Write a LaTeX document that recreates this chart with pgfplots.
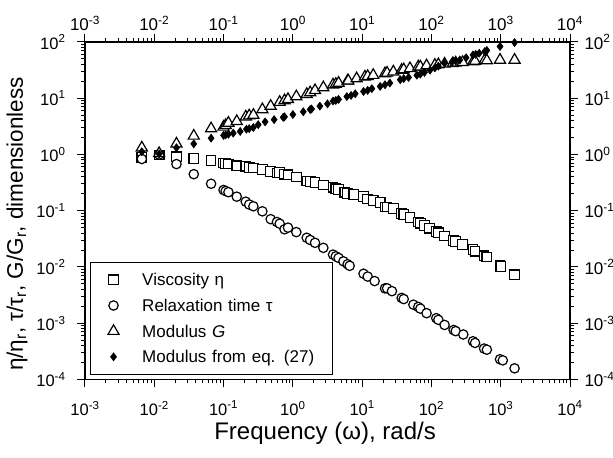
\documentclass[border=0pt]{standalone}
\usepackage{fontspec}
\setmainfont{Liberation Sans}
\usepackage{pgfplots}
\pgfplotsset{compat=1.18}
\usepackage{pgfplotstable}

\pgfplotstableread{
x y
0.00661 0.891
0.01175 0.977
0.02089 0.912
0.03715 0.851
0.06607 0.776
0.1 0.708
0.1072 0.692
0.1175 0.676
0.1549 0.631
0.2089 0.617
0.2344 0.589
0.2692 0.575
0.3631 0.537
0.4786 0.501
0.5888 0.468
0.6457 0.479
0.7586 0.447
0.8511 0.437
1.122 0.398
1.585 0.339
1.778 0.331
2.089 0.316
2.754 0.288
3.802 0.263
4.169 0.245
4.571 0.240
5.623 0.214
6.166 0.204
7.586 0.195
10.47 0.178
12.02 0.162
14.45 0.151
18.20 0.141
21.38 0.117
22.91 0.117
28.18 0.110
37.15 0.0891
39.81 0.0851
48.98 0.0759
64.57 0.0631
69.18 0.0603
79.43 0.0550
93.33 0.0490
117.5 0.0427
125.9 0.0407
154.9 0.0355
208.9 0.0295
223.9 0.0282
281.8 0.0251
398.1 0.0204
426.6 0.0191
575.4 0.0158
631.0 0.0151
977.2 0.0105
1000 0.0102
1585 0.00724
}\viscositytab

\pgfplotstableread{
x y
0.00661 0.832
0.01175 1.0
0.02089 0.676
0.03715 0.447
0.06607 0.302
0.1 0.234
0.1072 0.224
0.1175 0.214
0.1549 0.178
0.2089 0.145
0.2344 0.129
0.2692 0.120
0.3631 0.0977
0.4786 0.0708
0.5888 0.0631
0.6457 0.0589
0.7586 0.0468
0.8511 0.0501
1.122 0.0417
1.585 0.0331
1.778 0.0302
2.089 0.0269
2.754 0.0219
3.802 0.0166
4.169 0.0155
4.571 0.0145
5.370 0.0126
6.166 0.0112
6.607 0.0105
10.47 0.00759
12.02 0.00676
15.14 0.00562
21.38 0.00417
22.91 0.00417
26.92 0.00372
37.15 0.00282
39.81 0.00269
54.95 0.00214
64.57 0.00195
69.18 0.00182
85.11 0.00151
117.5 0.00123
125.9 0.00115
154.9 0.000933
208.9 0.000759
223.9 0.000724
288.4 0.000631
398.1 0.000479
426.6 0.000447
575.4 0.000355
631.0 0.000339
977.2 0.000229
1071 0.000219
1585 0.000158
}\relaxtab

\pgfplotstableread{
x y
0.00661 1.318
0.01175 1.047
0.02089 1.549
0.03715 2.138
0.06607 2.884
0.1 3.090
0.1072 3.311
0.1175 3.631
0.1549 3.890
0.2089 4.677
0.2344 4.898
0.2692 5.012
0.3631 6.310
0.4786 7.244
0.6457 8.511
0.7586 9.120
0.8511 9.550
1.122 10.72
1.585 11.75
1.778 12.59
2.089 13.80
2.754 15.49
3.802 17.38
4.169 17.78
4.571 18.62
6.166 20.42
6.310 20.42
8.318 22.39
10.96 23.99
12.02 24.55
14.45 25.70
21.38 27.54
22.91 28.18
28.18 29.51
37.15 31.62
39.81 32.36
48.98 33.88
64.57 36.31
69.18 36.31
85.11 38.02
112.2 38.90
125.9 39.81
154.9 40.74
204.2 41.69
223.9 42.66
281.8 43.65
398.1 44.67
426.6 45.71
588.8 47.86
631.0 46.77
977.2 47.86
1585 47.86
}\modulustab

\pgfplotstableread{
x y
0.00661 1.122
0.01175 1.023
0.02089 1.318
0.03715 1.549
0.06607 1.950
0.1 2.188
0.1072 2.239
0.1175 2.291
0.1380 2.399
0.1738 2.570
0.2138 2.818
0.2344 2.884
0.2692 3.020
0.3162 3.388
0.3981 3.802
0.5370 4.169
0.7244 4.571
0.7586 4.677
1 5.129
1.413 5.754
1.778 6.310
1.862 6.457
2.455 7.244
3.162 7.943
3.802 8.913
4.169 9.120
4.571 9.550
6.026 10.72
6.918 11.22
7.943 12.02
10.47 13.18
12.02 13.80
13.80 14.79
18.20 16.22
21.38 17.38
25.12 18.62
35.48 21.38
39.81 22.39
46.77 23.44
61.66 25.70
69.18 26.92
79.43 28.84
95.50 31.62
112.2 34.67
125.9 37.15
154.9 41.69
199.5 44.67
223.9 45.71
257.0 47.86
316.2 52.48
398.1 58.88
436.5 60.26
489.8 63.10
588.8 67.61
631.0 70.79
977.2 83.18
1585 97.72
}\moduluseqtab

\begin{document}
\begin{tikzpicture}
\begin{axis}[
  xmode=log, ymode=log,
  scale only axis, width=485pt, height=337.5pt,
  xmin=1e-3, xmax=1e4, ymin=1e-4, ymax=1e2,
  xtick={1e-3,1e-2,1e-1,1,1e1,1e2,1e3,1e4},
  xticklabels={10\textsuperscript{-3},10\textsuperscript{-2},10\textsuperscript{-1},10\textsuperscript{0},10\textsuperscript{1},10\textsuperscript{2},10\textsuperscript{3},10\textsuperscript{4}},
  ytick={1e-4,1e-3,1e-2,1e-1,1,1e1,1e2},
  yticklabels={10\textsuperscript{-4},10\textsuperscript{-3},10\textsuperscript{-2},10\textsuperscript{-1},10\textsuperscript{0},10\textsuperscript{1},10\textsuperscript{2}},
  tick align=outside,
  major tick length=8pt, minor tick length=4pt,
  axis line style={line width=1.2pt},
  every tick/.style={black, line width=1pt},
  tick label style={font=\fontsize{16.5}{18}\selectfont},
  xticklabel style={yshift=-10pt},
  yticklabel style={xshift=-8pt},
  xtick pos=both, ytick pos=both,
  xticklabel pos=lower, yticklabel pos=left,
  xlabel={Frequency (ω), rad/s},
  ylabel={η/η\textsubscript{r}, τ/τ\textsubscript{r}, G/G\textsubscript{r}, dimensionless},
  xlabel style={font=\fontsize{24}{28}\selectfont, at={(rel axis cs:0.495,-0.158)}, anchor=center},
  ylabel style={font=\fontsize{22.5}{26}\selectfont, at={(rel axis cs:-0.140,0.461)}, anchor=center},
  legend cell align=left,
  legend image code/.code={\path[draw=none, fill=none] (0pt,-5pt) rectangle (16pt,5pt); \draw[#1] plot coordinates {(8pt,0pt)};},
  legend style={at={(rel axis cs:0.0103,0.0133)}, anchor=south west,
    draw=black, line width=1.1pt, inner xsep=15pt, inner ysep=9.6pt,
    font=\fontsize{17}{20}\selectfont, row sep=9.67pt,
    nodes={inner sep=0pt, text height=14pt, text depth=2pt, text width=175pt, align=left},
    /tikz/every odd column/.append style={column sep=20.7pt}},
]
\addplot[only marks, mark=square*, mark size=4.8pt, mark options={fill=white, draw=black, line width=1.2pt}] table[x=x,y=y] {\viscositytab};
\addlegendentry{Viscosity η}
\addplot[only marks, mark=*, mark size=4.7pt, mark options={fill=white, draw=black, line width=1.2pt}] table[x=x,y=y] {\relaxtab};
\addlegendentry{Relaxation time τ}
\addplot[only marks, mark=triangle*, mark size=6.4pt, mark options={fill=white, draw=black, line width=1.2pt}] table[x=x,y=y] {\modulustab};
\addlegendentry{Modulus \textit{G}}
\addplot[only marks, mark=diamond*, mark size=4pt, mark options={fill=black, draw=black, line width=0.6pt}] table[x=x,y=y] {\moduluseqtab};
\addlegendentry{Modulus from eq. (27)}
\coordinate (BL) at (rel axis cs:-0.17526,-0.23259);
\coordinate (TR) at (rel axis cs:1.08866,1.12444);
\end{axis}
\begin{axis}[
  xmode=log, ymode=log,
  scale only axis, width=485pt, height=337.5pt,
  xmin=1e-3, xmax=1e4, ymin=1e-4, ymax=1e2,
  xtick={1e-3,1e-2,1e-1,1,1e1,1e2,1e3,1e4},
  xticklabels={10\textsuperscript{-3},10\textsuperscript{-2},10\textsuperscript{-1},10\textsuperscript{0},10\textsuperscript{1},10\textsuperscript{2},10\textsuperscript{3},10\textsuperscript{4}},
  ytick={1e-4,1e-3,1e-2,1e-1,1,1e1,1e2},
  yticklabels={10\textsuperscript{-4},10\textsuperscript{-3},10\textsuperscript{-2},10\textsuperscript{-1},10\textsuperscript{0},10\textsuperscript{1},10\textsuperscript{2}},
  tick align=outside,
  major tick length=8pt, minor tick length=4pt,
  axis line style={line width=1.2pt},
  every tick/.style={black, line width=1pt},
  tick label style={font=\fontsize{17}{18}\selectfont},
  yticklabel style={xshift=3pt},
  xtick pos=right, ytick pos=right,
  xticklabel pos=upper, yticklabel pos=right,
]
\addplot[draw=none, forget plot] coordinates {(1,1)};
\end{axis}
\pgfresetboundingbox
\path[use as bounding box] (BL) rectangle (TR);
\end{tikzpicture}
\end{document}
